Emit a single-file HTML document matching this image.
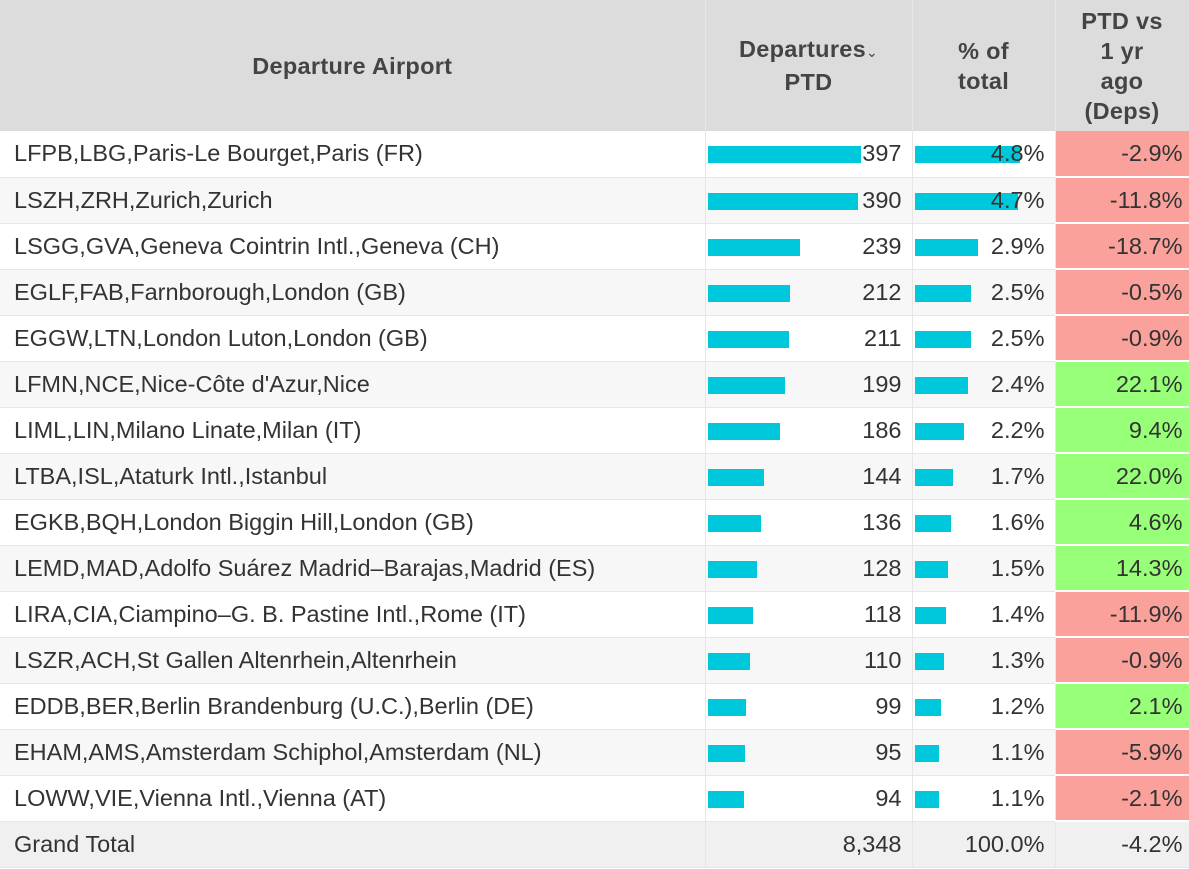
<!DOCTYPE html>
<html><head><meta charset="utf-8"><style>
body{margin:0;width:1189px;height:869px;overflow:hidden;background:#fff;font-family:"Liberation Sans",sans-serif;color:#333;}
table{border-collapse:collapse;table-layout:fixed;width:1189px;font-size:23.5px;}
th{background:#dcdcdc;height:131px;font-weight:bold;color:#444;font-size:23.5px;line-height:30px;border-right:1px solid #e8e8e8;padding:0;letter-spacing:0.3px;}
td{height:46px;box-sizing:border-box;padding:0 8px 0 14px;border-bottom:1px solid #e6e6e6;border-right:1px solid #e6e6e6;position:relative;white-space:nowrap;}
tr:nth-child(odd) td{background:#f7f7f7;}
td.n{text-align:right;padding-right:10px;}
td.b{padding:0;}
.bar{position:absolute;left:2px;top:15px;height:17px;background:#00c8dc;}
.v{position:absolute;right:10px;top:0;line-height:44px;}
td.r{background:#f9a19a !important;text-align:right;padding-right:6px;border-bottom:2px solid #fff;}
td.g{background:#98ff78 !important;text-align:right;padding-right:6px;border-bottom:2px solid #fff;}
tr.t td{background:#f0f0f0 !important;height:46px;}
</style></head><body>
<table>
<colgroup><col style="width:705px"><col style="width:207px"><col style="width:143px"><col style="width:134px"></colgroup>
<tr><th>Departure Airport</th><th>Departures<span style="font-weight:normal;font-size:14px">&#8964;</span><br>PTD</th><th>% of<br>total</th><th>PTD vs<br>1 yr<br>ago<br>(Deps)</th></tr>
<tr><td>LFPB,LBG,Paris-Le Bourget,Paris (FR)</td><td class="b"><div class="bar" style="width:153px"></div><span class="v">397</span></td><td class="b"><div class="bar" style="width:105px"></div><span class="v">4.8%</span></td><td class="r">-2.9%</td></tr>
<tr><td>LSZH,ZRH,Zurich,Zurich</td><td class="b"><div class="bar" style="width:150px"></div><span class="v">390</span></td><td class="b"><div class="bar" style="width:103px"></div><span class="v">4.7%</span></td><td class="r">-11.8%</td></tr>
<tr><td>LSGG,GVA,Geneva Cointrin Intl.,Geneva (CH)</td><td class="b"><div class="bar" style="width:92px"></div><span class="v">239</span></td><td class="b"><div class="bar" style="width:63px"></div><span class="v">2.9%</span></td><td class="r">-18.7%</td></tr>
<tr><td>EGLF,FAB,Farnborough,London (GB)</td><td class="b"><div class="bar" style="width:82px"></div><span class="v">212</span></td><td class="b"><div class="bar" style="width:56px"></div><span class="v">2.5%</span></td><td class="r">-0.5%</td></tr>
<tr><td>EGGW,LTN,London Luton,London (GB)</td><td class="b"><div class="bar" style="width:81px"></div><span class="v">211</span></td><td class="b"><div class="bar" style="width:56px"></div><span class="v">2.5%</span></td><td class="r">-0.9%</td></tr>
<tr><td>LFMN,NCE,Nice-Côte d'Azur,Nice</td><td class="b"><div class="bar" style="width:77px"></div><span class="v">199</span></td><td class="b"><div class="bar" style="width:53px"></div><span class="v">2.4%</span></td><td class="g">22.1%</td></tr>
<tr><td>LIML,LIN,Milano Linate,Milan (IT)</td><td class="b"><div class="bar" style="width:72px"></div><span class="v">186</span></td><td class="b"><div class="bar" style="width:49px"></div><span class="v">2.2%</span></td><td class="g">9.4%</td></tr>
<tr><td>LTBA,ISL,Ataturk Intl.,Istanbul</td><td class="b"><div class="bar" style="width:56px"></div><span class="v">144</span></td><td class="b"><div class="bar" style="width:38px"></div><span class="v">1.7%</span></td><td class="g">22.0%</td></tr>
<tr><td>EGKB,BQH,London Biggin Hill,London (GB)</td><td class="b"><div class="bar" style="width:53px"></div><span class="v">136</span></td><td class="b"><div class="bar" style="width:36px"></div><span class="v">1.6%</span></td><td class="g">4.6%</td></tr>
<tr><td>LEMD,MAD,Adolfo Suárez Madrid–Barajas,Madrid (ES)</td><td class="b"><div class="bar" style="width:49px"></div><span class="v">128</span></td><td class="b"><div class="bar" style="width:33px"></div><span class="v">1.5%</span></td><td class="g">14.3%</td></tr>
<tr><td>LIRA,CIA,Ciampino–G. B. Pastine Intl.,Rome (IT)</td><td class="b"><div class="bar" style="width:45px"></div><span class="v">118</span></td><td class="b"><div class="bar" style="width:31px"></div><span class="v">1.4%</span></td><td class="r">-11.9%</td></tr>
<tr><td>LSZR,ACH,St Gallen Altenrhein,Altenrhein</td><td class="b"><div class="bar" style="width:42px"></div><span class="v">110</span></td><td class="b"><div class="bar" style="width:29px"></div><span class="v">1.3%</span></td><td class="r">-0.9%</td></tr>
<tr><td>EDDB,BER,Berlin Brandenburg (U.C.),Berlin (DE)</td><td class="b"><div class="bar" style="width:38px"></div><span class="v">99</span></td><td class="b"><div class="bar" style="width:26px"></div><span class="v">1.2%</span></td><td class="g">2.1%</td></tr>
<tr><td>EHAM,AMS,Amsterdam Schiphol,Amsterdam (NL)</td><td class="b"><div class="bar" style="width:37px"></div><span class="v">95</span></td><td class="b"><div class="bar" style="width:24px"></div><span class="v">1.1%</span></td><td class="r">-5.9%</td></tr>
<tr><td>LOWW,VIE,Vienna Intl.,Vienna (AT)</td><td class="b"><div class="bar" style="width:36px"></div><span class="v">94</span></td><td class="b"><div class="bar" style="width:24px"></div><span class="v">1.1%</span></td><td class="r">-2.1%</td></tr>
<tr class="t"><td>Grand Total</td><td class="n">8,348</td><td class="n">100.0%</td><td class="n" style="padding-right:6px">-4.2%</td></tr>
</table>
</body></html>
